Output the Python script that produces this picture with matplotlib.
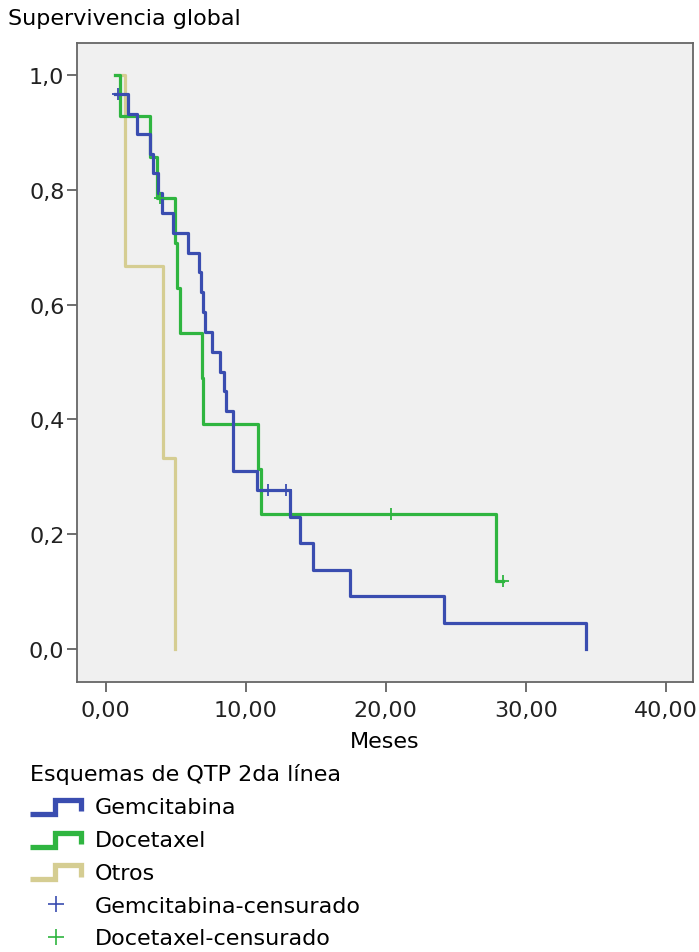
import numpy as np
import matplotlib.pyplot as plt
from matplotlib.lines import Line2D
from matplotlib.legend_handler import HandlerBase

# datos (meses, 1 = evento, 0 = censurado)
gem_t = [0.65, 0.9, 1.57, 2.21, 3.14, 3.36, 3.71, 4.0, 4.79, 5.86, 6.64, 6.79, 6.93, 7.07,
         7.57, 8.14, 8.43, 8.57, 9.07, 9.07, 9.07, 10.79, 11.57, 12.86, 13.14, 13.86,
         14.79, 17.43, 24.14, 34.29]
gem_e = [1, 0, 1, 1, 1, 1, 1, 1, 1, 1, 1, 1, 1, 1,
         1, 1, 1, 1, 1, 1, 1, 1, 0, 0, 1, 1,
         1, 1, 1, 1]
doc_t = [1.0, 3.14, 3.64, 3.86, 4.93, 5.07, 5.29, 6.84, 6.95, 10.86, 11.07, 20.36, 27.9, 28.36]
doc_e = [1, 1, 1, 0, 1, 1, 1, 1, 1, 1, 1, 0, 1, 0]
otr_t = [1.36, 4.05, 4.93]
otr_e = [1, 1, 1]
inicio = 0.65

grupos = ['Gemcitabina', 'Docetaxel', 'Otros']
colores = ['#3a4db0', '#2fb540', '#d5cd92']


def km(t, e):
    t = np.array(t)
    e = np.array(e)
    xs = [inicio]
    ys = [1.0]
    cx, cy = [], []
    s = 1.0
    for u in np.unique(t):
        n = (t >= u).sum()
        d = e[(t == u)].sum()
        s = s * (1 - d / n)
        if u == inicio:
            # la curva empieza ya despues del primer evento
            ys[0] = s
            continue
        xs.append(u)
        ys.append(s)
        if ((t == u) & (e == 0)).any():
            cx.append(u)
            cy.append(s)
    return xs, ys, cx, cy


plt.rcParams['font.family'] = 'DejaVu Sans'
fig = plt.figure(figsize=(6.99, 9.53), dpi=100)
ax = fig.add_axes([0.110, 0.2833, 0.881, 0.6705])
ax.set_facecolor('#f0f0f0')

datos = [(otr_t, otr_e, colores[2], 2), (doc_t, doc_e, colores[1], 3), (gem_t, gem_e, colores[0], 4)]
for t, e, c, z in datos:
    xs, ys, cx, cy = km(t, e)
    ax.plot(xs, ys, drawstyle='steps-post', color=c, lw=2.3, zorder=z)
    ax.plot(cx, cy, ls='none', marker='+', ms=9, mew=1.3, color=c, zorder=z + 3)

ax.set_xlim(-2.07, 41.93)
ax.set_ylim(-0.0575, 1.0557)
ax.set_xticks([0, 10, 20, 30, 40])
ax.set_xticklabels(['0,00', '10,00', '20,00', '30,00', '40,00'])
ax.set_yticks([0, 0.2, 0.4, 0.6, 0.8, 1.0])
ax.set_yticklabels(['0,0', '0,2', '0,4', '0,6', '0,8', '1,0'])
ax.tick_params(labelsize=16, length=7, width=1.2, color='#555555', labelcolor='#222222')
ax.tick_params(axis='y', pad=2)
ax.tick_params(axis='x', pad=6)
for s in ax.spines.values():
    s.set_color('#666666')
    s.set_linewidth(1.3)
ax.set_xlabel('Meses', fontsize=16, labelpad=8)
fig.text(8 / 699, 1 - 19 / 953, 'Supervivencia global', fontsize=16, va='center', ha='left')


class StepHandler(HandlerBase):
    def create_artists(self, legend, orig, xdescent, ydescent, width, height, fontsize, trans):
        x0 = -xdescent
        y0 = -ydescent
        xs = [x0, x0 + 0.48 * width, x0 + 0.48 * width, x0 + width, x0 + width]
        ys = [y0 - 0.05 * height, y0 - 0.05 * height, y0 + 0.85 * height, y0 + 0.85 * height, y0 + 0.1 * height]
        ln = Line2D(xs, ys, color=orig.get_color(), lw=3.8, solid_joinstyle='miter', solid_capstyle='butt')
        ln.set_transform(trans)
        return [ln]


handles = [Line2D([], [], color=c) for c in colores]
handles += [Line2D([], [], ls='none', marker='+', ms=12, mew=1.2, color=colores[0]),
            Line2D([], [], ls='none', marker='+', ms=12, mew=1.2, color=colores[1])]
labels = grupos + ['Gemcitabina-censurado', 'Docetaxel-censurado']
leg = fig.legend(handles, labels, loc='upper left', bbox_to_anchor=(30 / 699, 1 - 764 / 953),
                 title='Esquemas de QTP 2da línea', title_fontsize=16, fontsize=16,
                 frameon=False, alignment='left', borderpad=0, borderaxespad=0,
                 handlelength=2.3, handletextpad=0.6, labelspacing=0.58,
                 handler_map={h: StepHandler() for h in handles[:3]})

fig.savefig('out.png', dpi=100)
